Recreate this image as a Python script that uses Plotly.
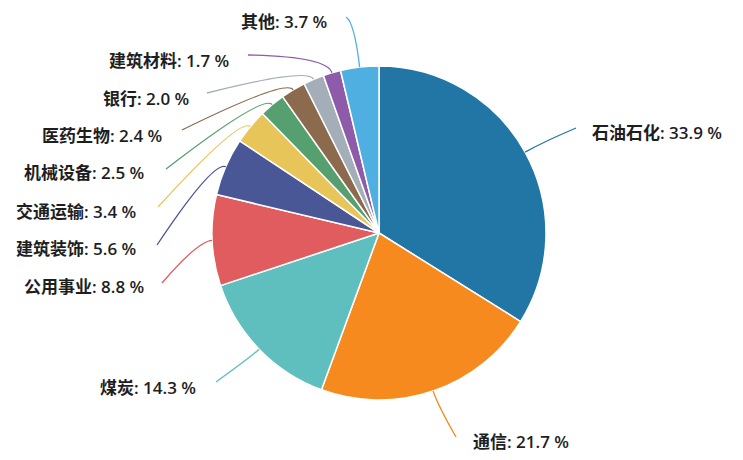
import math
import plotly.graph_objects as go

# ---- data ----
sectors = ["石油石化", "通信", "煤炭", "公用事业", "建筑装饰", "交通运输",
           "机械设备", "医药生物", "银行", "建筑材料", "其他"]
weights = [33.9, 21.7, 14.3, 8.8, 5.6, 3.4, 2.5, 2.4, 2.0, 1.7, 3.7]
colors = ["#2276a6", "#f68a1e", "#5fbfbf", "#e05c5f", "#4a5796", "#e8c559",
          "#55a06e", "#8b6a4d", "#a4aeb8", "#8d5ba9", "#4eafe0"]

# ---- layout config (pixels) ----
W, H = 743, 460
CX, CY, R = 379, 233, 167
# label line end point, text anchor point, anchor side, radial extension for curve
label_cfg = {
    "石油石化": ((576, 128), (590, 132), "left", 22),
    "通信":     ((456, 437), (471, 441), "left", 16),
    "煤炭":     ((216, 382), (198, 387), "right", 10),
    "公用事业": ((162, 283), (146, 286), "right", 14),
    "建筑装饰": ((157, 245), (138, 248), "right", 14),
    "交通运输": ((158, 207), (138, 211), "right", 14),
    "机械设备": ((166, 169), (146, 173), "right", 14),
    "医药生物": ((182, 130), (164, 135), "right", 13),
    "银行":     ((207, 93), (191, 98), "right", 13),
    "建筑材料": ((248, 55), (231, 60), "right", 17),
    "其他":     ((346, 17), (329, 22), "right", 45),
}

def px2paper(x, y):
    return x / W, 1 - y / H

fig = go.Figure()
fig.add_trace(go.Pie(
    labels=sectors, values=weights, sort=False, direction="clockwise",
    rotation=0, textinfo="none", hoverinfo="label+percent",
    marker=dict(colors=colors, line=dict(color="white", width=1.5)),
    domain=dict(x=[(CX - R) / W, (CX + R) / W], y=[1 - (CY + R) / H, 1 - (CY - R) / H]),
    showlegend=False,
))

total = sum(weights)
cum = 0.0
shapes, annotations = [], []
for name, val, col in zip(sectors, weights, colors):
    mid = (cum + val / 2) / total * 2 * math.pi
    cum += val
    (ex, ey), (tx, ty), side, ext = label_cfg[name]
    x0, y0 = CX + R * math.sin(mid), CY - R * math.cos(mid)
    x1, y1 = CX + (R + ext) * math.sin(mid), CY - (R + ext) * math.cos(mid)
    p0 = px2paper(x0, y0)
    p1 = px2paper(x1, y1)
    p2 = px2paper(ex, ey)
    shapes.append(dict(
        type="path", xref="paper", yref="paper",
        path=f"M {p0[0]:.5f},{p0[1]:.5f} Q {p1[0]:.5f},{p1[1]:.5f} {p2[0]:.5f},{p2[1]:.5f}",
        line=dict(color=col, width=1.3),
    ))
    ax, ay = px2paper(tx, ty)
    annotations.append(dict(
        x=ax, y=ay, xref="paper", yref="paper", showarrow=False,
        xanchor=side, yanchor="middle",
        text=f"<b>{name}</b>: {val:.1f} %",
        font=dict(size=17, color="#1e1e1e", family="Open Sans, Noto Sans CJK SC", weight=600),
    ))

fig.update_layout(
    width=W, height=H, margin=dict(l=0, r=0, t=0, b=0),
    paper_bgcolor="white", plot_bgcolor="white",
    shapes=shapes, annotations=annotations,
)
fig.write_html("out.html")
